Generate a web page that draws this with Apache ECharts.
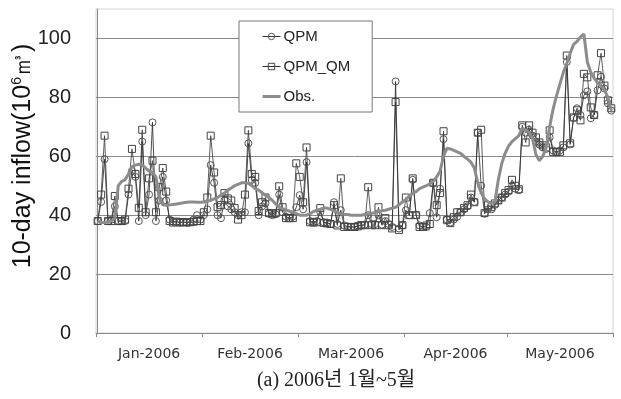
<!DOCTYPE html>
<html><head><meta charset="utf-8">
<script src="https://cdn.jsdelivr.net/npm/echarts@6/dist/echarts.min.js"></script>
<style>html,body{margin:0;padding:0;background:#fff}#c{width:621px;height:399px}</style>
</head><body><div id="c"></div>
<script>
const startDate = '2006-01-01';
const monthStarts = ['2006-01-01','2006-02-01','2006-03-01','2006-04-01','2006-05-01','2006-06-01'];
const monthLabels = ['Jan-2006','Feb-2006','Mar-2006','Apr-2006','May-2006'];
const yTicks = [0, 20, 40, 60, 80, 100];
const yTitle = '10-day inflow(10{s|6}㎥)';
const caption = '(a) 2006년 1월~5월';
const seriesNames = ['QPM', 'QPM_QM', 'Obs.'];

const qpm = [
 38, 44.5, 59, 38, 38.5, 43, 38, 38, 38, 47,
 55, 53, 38, 65, 40, 47, 71.5, 38, 45, 53,
 45, 38.5, 37.8, 37.8, 37.5, 37.6, 37.5, 37.8, 38.5, 40,
 38.5, 40, 42, 57, 51, 40, 39, 45, 43, 42,
 41, 40, 41, 41, 64.4, 52, 51, 40, 43, 44,
 40.5, 40, 40.3, 47, 41, 39.5, 39, 39.5, 42.7, 46.8,
 42, 58, 38, 37.8, 38, 41, 37.6, 37.5, 37, 44.4,
 37, 41.7, 36.5, 36.2, 36, 36, 36.5, 36.6, 36.8, 40,
 37, 37, 40, 36.8, 38, 37, 36, 85.4, 35.5, 36.5,
 41.7, 40, 52, 40, 36.5, 36, 36, 40.7, 51, 39.3,
 49, 65.8, 38.5, 37.5, 38.5, 39.5, 41, 42, 43, 46,
 44.5, 68, 50, 40.5, 42, 42, 43.5, 45, 46, 47,
 48, 50, 49, 48.5, 70, 68, 69, 67, 65, 64,
 63, 62.5, 66.4, 62, 61.5, 62, 63, 92, 64, 73,
 76.3, 74, 80.7, 82, 72.9, 74, 82.4, 87, 83, 78,
 75.5
];
const qpmQm = [
 38, 47, 67, 38, 38, 46.5, 38, 38, 38.5, 49,
 62.5, 54, 42.5, 69, 41, 52.5, 58.5, 41, 49.5, 56,
 48, 38, 37.5, 37.8, 37.5, 37.7, 37.5, 37.6, 37.8, 38,
 38, 41, 46, 67, 54.5, 42.7, 43.4, 47.5, 45.7, 45,
 42.4, 38.5, 40, 47, 68.8, 54, 53, 41.4, 44.4, 46,
 40.7, 40.5, 40.7, 49.8, 42.7, 39, 39, 39, 57.6, 53,
 44.4, 63, 37.6, 37.5, 37.6, 42.4, 37.4, 37.2, 37, 43.4,
 36.5, 52.5, 36, 36, 36, 36, 36.2, 36.6, 36.6, 49.5,
 36.6, 36.6, 42.7, 36.6, 39, 36.6, 35.5, 78.4, 35, 36.6,
 46, 40, 52.5, 40, 36, 36, 36.5, 37, 51, 43.4,
 47.5, 68.5, 38.3, 37.3, 39.3, 41, 41, 42.4, 43.4, 47,
 44.4, 68, 69, 40.7, 43.4, 42.7, 44, 45, 46, 47.5,
 48.5, 52, 50, 48.8, 70.5, 64.7, 70.5, 68, 66.4, 64.7,
 63.7, 63, 68.8, 61.5, 61.4, 61.5, 63.7, 94.2, 64.4, 73.2,
 75.6, 72.2, 88, 86.8, 76.6, 74, 87.5, 95, 84, 79,
 76.3
];
const obs = [
 38, 37.5, 37.5, 37.8, 38, 39, 50, 51.5, 52, 54,
 56.5, 57, 57.3, 57, 56, 55, 54.5, 53, 46, 43.5,
 43.4, 43.5, 43.6, 43.8, 44, 44.2, 44.4, 44.5, 44.5, 44.4,
 44.4, 44.5, 44.8, 45, 45.5, 46, 46.8, 47.5, 48.5, 49.2,
 50, 50.5, 51, 51, 50.8, 50, 49, 48.5, 47.6, 46.8,
 46, 45, 43.8, 42.7, 42.2, 41.8, 41.4, 41, 40.5, 40,
 40, 40, 40.5, 41.2, 41.7, 42, 42.4, 42.4, 42, 41.5,
 40.8, 40.5, 40.3, 40.2, 40, 40, 40, 40, 40.2, 40.4,
 40.6, 40.9, 41.2, 41.5, 41.7, 42, 42.4, 42.7, 43.5, 44.5,
 45.3, 46.5, 47.5, 48, 49, 49.5, 50, 50.7, 51.5, 53,
 55, 60, 62.7, 62.5, 62, 61.5, 61, 60, 59, 58,
 56, 51, 47.5, 45.5, 44.5, 44, 44.5, 52, 57.5, 61,
 63.5, 65, 66, 67, 69.5, 69, 68, 66, 60.5, 58.5,
 60, 63, 70, 76, 80.5, 84.5, 88.5, 91.5, 95, 98,
 99, 100.5, 101.5, 92, 88.5, 86.5, 85, 83.8, 82.5, 80,
 75.5
];

const DAY = 86400000;
const t0 = Date.parse(startDate);
const dayIndex = s => (Date.parse(s) - t0) / DAY;
const bounds = monthStarts.map(s => dayIndex(s) - 0.5);
const labelPos = monthLabels.map((_, i) => (bounds[i] + bounds[i + 1]) / 2);
const toPairs = arr => arr.map((v, i) => [i, v]);

const chart = echarts.init(document.getElementById('c'), null, {renderer: 'canvas'});
chart.setOption({
  animation: false,
  backgroundColor: '#fff',
  grid: {left: 96, right: 8, top: 9, bottom: 66, show: true, borderColor: '#d4d4d4', borderWidth: 1},
  legend: {
    orient: 'vertical', left: 239, top: 21,
    padding: [8, 22, 8, 23], itemGap: 15, itemWidth: 18, itemHeight: 8,
    backgroundColor: '#fff', borderColor: '#777', borderWidth: 1,
    textStyle: {fontFamily: 'Liberation Sans', fontSize: 15, color: '#222', padding: [0, 0, 0, -2]},
    data: [
      {name: seriesNames[0], lineStyle: {width: 1, color: '#333'}, itemStyle: {borderColor: '#555', borderWidth: 1}},
      {name: seriesNames[1], lineStyle: {width: 1, color: '#333'}, itemStyle: {borderColor: '#444', borderWidth: 1}},
      {name: seriesNames[2], icon: 'path://M0,0 L18,0 L18,3 L0,3 Z', itemStyle: {color: '#8c8c8c'}}
    ]
  },
  xAxis: {
    type: 'value', min: bounds[0], max: bounds[bounds.length - 1],
    splitLine: {show: false},
    axisLine: {lineStyle: {color: '#888'}},
    axisTick: {customValues: bounds, length: 4, lineStyle: {color: '#888'}},
    axisLabel: {
      customValues: labelPos,
      formatter: v => { const i = labelPos.findIndex(p => Math.abs(p - v) < 0.01); return i >= 0 ? monthLabels[i] : ''; },
      fontFamily: 'DejaVu Sans', fontSize: 14, color: '#333', margin: 14
    }
  },
  yAxis: {
    type: 'value', min: 0, max: 110, interval: 20,
    axisLine: {show: true, lineStyle: {color: '#888'}},
    axisTick: {show: false},
    splitLine: {showMaxLine: false, lineStyle: {color: '#8a8a8a'}},
    axisLabel: {
      formatter: v => yTicks.includes(v) ? String(v) : '',
      fontFamily: 'Liberation Sans', fontSize: 20, color: '#222', margin: 25
    }
  },
  graphic: [
    {type: 'text', x: 23, y: 156, rotation: Math.PI / 2,
     style: {text: yTitle, fontFamily: 'Liberation Sans', fontSize: 25, fill: '#111',
             align: 'center', verticalAlign: 'middle',
             rich: {s: {fontSize: 14, verticalAlign: 'top', fontFamily: 'Liberation Sans', fill: '#111'}}}},
    {type: 'text', x: 336, y: 381,
     style: {text: caption, fontFamily: "'Liberation Serif', 'Noto Sans CJK KR'", fontSize: 20, fill: '#222',
             align: 'center', verticalAlign: 'middle'}}
  ],
  series: [
    {name: seriesNames[0], type: 'line', data: toPairs(qpm), symbol: 'circle', symbolSize: 7,
     lineStyle: {color: '#222', width: 0.8},
     itemStyle: {color: 'rgba(255,255,255,0)', borderColor: '#555', borderWidth: 1}, z: 2},
    {name: seriesNames[1], type: 'line', data: toPairs(qpmQm), symbol: 'rect', symbolSize: 7,
     lineStyle: {color: '#333', width: 0.8},
     itemStyle: {color: 'rgba(255,255,255,0)', borderColor: '#444', borderWidth: 1}, z: 2},
    {name: seriesNames[2], type: 'line', data: toPairs(obs), symbol: 'none', showSymbol: false,
     lineStyle: {color: '#8c8c8c', width: 3}, itemStyle: {color: '#8c8c8c'}, z: 3}
  ]
});
</script>
</body></html>
